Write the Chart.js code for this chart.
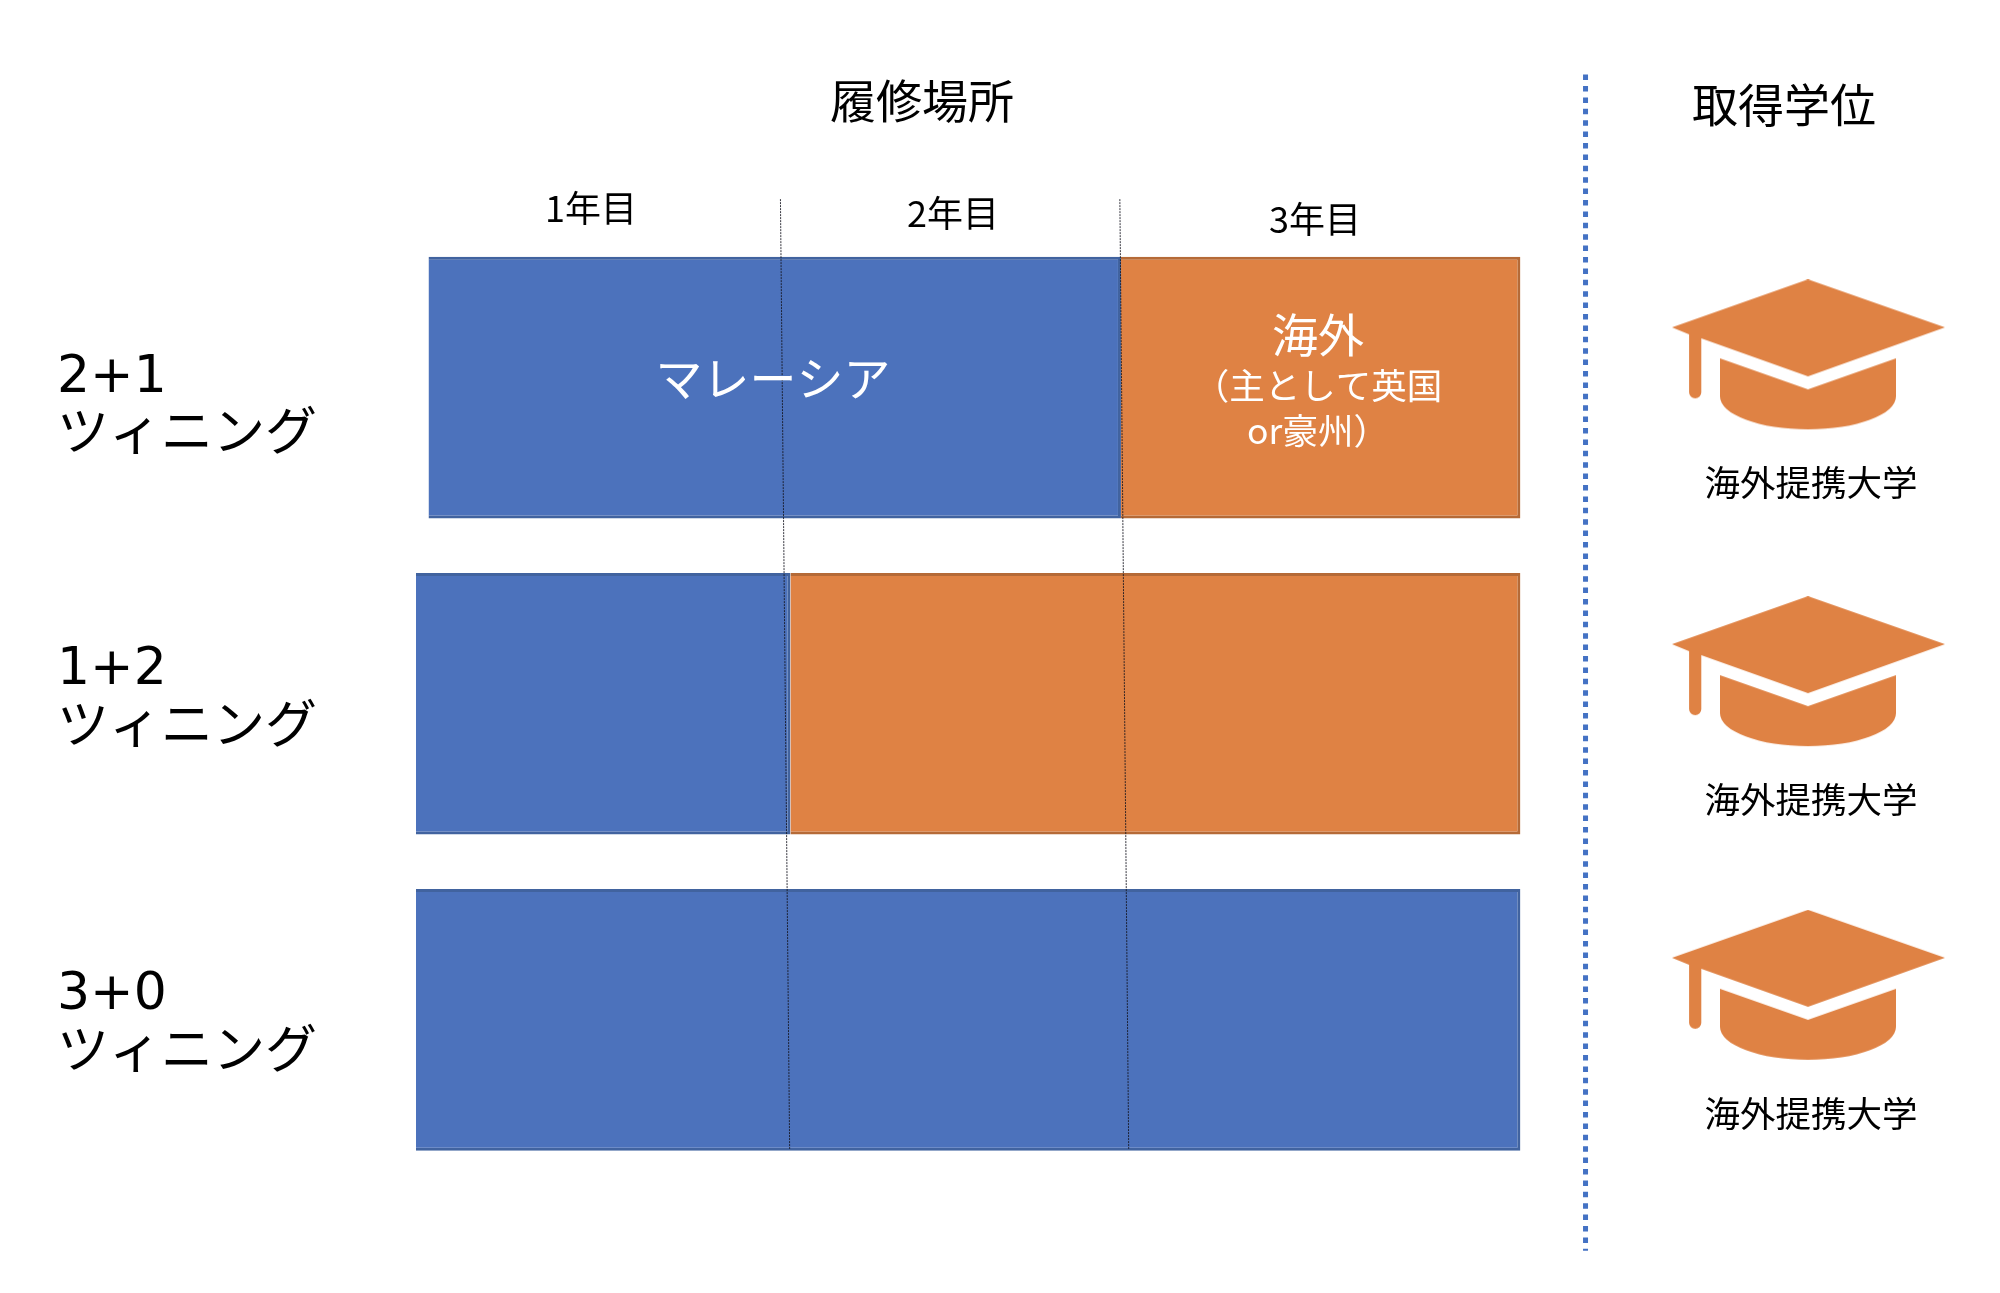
<!DOCTYPE html>
<html lang="ja">
<head>
<meta charset="utf-8">
<style>html,body{margin:0;padding:0;background:#fff}canvas{display:block}</style>
<script src="https://cdn.jsdelivr.net/npm/chart.js@4"></script>
</head>
<body>
<canvas id="c" width="2000" height="1293"></canvas>
<script>
// ---- data (years of study) ----
const programmes = [['2+1', 'ツィニング'], ['1+2', 'ツィニング'], ['3+0', 'ツィニング']];
const malaysiaYears = [[0.034, 1.915], [0, 1.017], [0, 3]];
const overseasYears = [[1.915, 3], [1.017, 3], null];
const yearDivider1 = [[0.99, -0.596], [1.015, 2.408]];
const yearDivider2 = [[1.912, -0.596], [1.936, 2.408]];
const degreeSeparator = [[3.177, -0.99], [3.177, 2.73]];
const capX = [3.784, 3.784, 3.784];
const capY = [-0.102, 0.9, 1.892];
const headings = ['履修場所', '取得学位'];
const yearLabels = ['1年目', '2年目', '3年目'];
const locationLabels = ['マレーシア', '海外', '（主として英国', 'or豪州）'];
const degreeLabel = '海外提携大学';

// ---- styles ----
const BLUE = '#4C72BC', BLUE_EDGE = '#41639F', ORANGE = '#DF8244', ORANGE_EDGE = '#B56A37';
const FONT = '"DejaVu Sans","Noto Sans CJK JP",sans-serif';
const JP = '"Noto Sans CJK JP",sans-serif';
const rowLabelShift = [20, -4, 5];

const annotations = [
  [headings[0], 922, 101, 46, '#000', JP],
  [headings[1], 1784, 105, 46, '#000', JP],
  [yearLabels[0], 591, 208, 36, '#000', JP],
  [yearLabels[1], 953, 213, 36, '#000', JP],
  [yearLabels[2], 1315, 219, 36, '#000', JP],
  [locationLabels[0], 773, 378, 47, '#fff', JP],
  [locationLabels[1], 1318, 335, 46, '#fff', JP],
  [locationLabels[2], 1318, 386, 35.5, '#fff', JP],
  [locationLabels[3], 1318, 431, 35.5, '#fff', JP],
  [degreeLabel, 1811, 483, 35.5, '#000', JP],
  [degreeLabel, 1811, 800, 35.5, '#000', JP],
  [degreeLabel, 1811, 1114, 35.5, '#000', JP]
];

function makeCap() {
  const cv = document.createElement('canvas');
  cv.width = 274; cv.height = 152;
  const g = cv.getContext('2d');
  g.fillStyle = ORANGE;
  g.beginPath();
  g.moveTo(0, 48); g.lineTo(136, 0); g.lineTo(273, 48); g.lineTo(136, 97);
  g.lineTo(29.3, 59); g.lineTo(29.3, 113);
  g.arc(23.2, 113, 6.1, 0, Math.PI);
  g.lineTo(17.1, 55); g.closePath(); g.fill();
  g.beginPath();
  g.moveTo(48, 79); g.lineTo(136, 110); g.lineTo(224, 79); g.lineTo(224, 117);
  g.ellipse(136, 117, 88, 33, 0, 0, Math.PI);
  g.closePath(); g.fill();
  return cv;
}

const toXY = a => a.map(p => ({x: p[0], y: p[1]}));
const lineSet = (pts, color, width, dash) => ({
  type: 'line', indexAxis: 'x', xAxisID: 'x', yAxisID: 'yPos', order: 1,
  data: toXY(pts), borderColor: color, borderWidth: width, borderDash: dash,
  pointRadius: 0, fill: false, tension: 0, clip: false, borderCapStyle: 'butt'
});

const textPlugin = {
  id: 'texts',
  beforeDraw(chart) {
    const items = chart.scales.y.getLabelItems();
    items.forEach((it, i) => { if (!it._moved) { it.options.translation[1] += rowLabelShift[i]; it._moved = true; } });
  },
  afterDatasetsDraw(chart) {
    const c = chart.ctx;
    c.save();
    c.textAlign = 'center';
    c.textBaseline = 'middle';
    annotations.forEach(([t, x, y, size, color, fam]) => {
      c.font = size + 'px ' + fam;
      c.fillStyle = color;
      c.fillText(t, x, y);
    });
    c.restore();
  }
};

new Chart(document.getElementById('c'), {
  type: 'bar',
  plugins: [textPlugin],
  data: {
    labels: programmes,
    datasets: [
      {label: 'マレーシア', indexAxis: 'y', order: 2, data: malaysiaYears, grouped: false,
       backgroundColor: BLUE, borderColor: BLUE_EDGE, borderWidth: 3, barPercentage: 0.8275, categoryPercentage: 1},
      {label: '海外', indexAxis: 'y', order: 2, data: overseasYears, grouped: false,
       backgroundColor: ORANGE, borderColor: ORANGE_EDGE, borderWidth: 3, barPercentage: 0.8275, categoryPercentage: 1},
      lineSet(yearDivider1, 'rgba(20,20,30,0.85)', 1, [2, 1]),
      lineSet(yearDivider2, 'rgba(20,20,30,0.85)', 1, [2, 1]),
      lineSet(degreeSeparator, '#4472C4', 5, [5.5, 5.9]),
      {type: 'line', indexAxis: 'x', xAxisID: 'x', yAxisID: 'yPos', order: 1, showLine: false,
       data: capX.map((x, i) => ({x, y: capY[i]})), pointStyle: makeCap(), pointRadius: 10, clip: false}
    ]
  },
  options: {
    indexAxis: 'y',
    responsive: false,
    devicePixelRatio: 1,
    animation: false,
    layout: {padding: {left: 57, right: 0, top: 229.5, bottom: 115}},
    plugins: {legend: {display: false}, tooltip: {enabled: false}, title: {display: false}},
    events: [],
    scales: {
      x: {type: 'linear', min: 0, max: 4.273, display: false, grid: {display: false}},
      y: {
        type: 'category', position: 'left', offset: true,
        grid: {display: false, drawTicks: false}, border: {display: false},
        afterFit(scale) { scale.width = 359; },
        ticks: {crossAlign: 'far', padding: 0, autoSkip: false, color: '#000',
                font: {family: FONT, size: 52, lineHeight: 1.13}}
      },
      yPos: {type: 'linear', axis: 'y', min: -0.5, max: 2.5, reverse: true, display: false, offset: false}
    }
  }
});
</script>
</body>
</html>
